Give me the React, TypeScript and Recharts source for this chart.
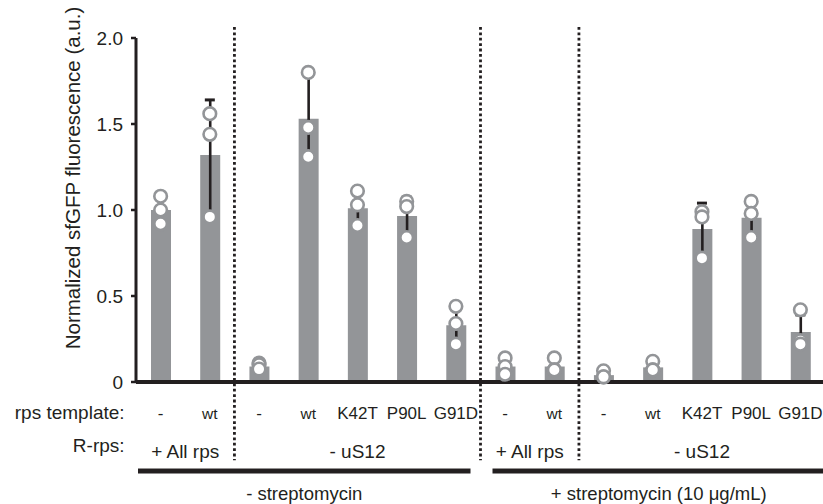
import {
  Bar,
  ComposedChart,
  ErrorBar,
  Label,
  ReferenceArea,
  ReferenceLine,
  Scatter,
  XAxis,
  YAxis,
} from "recharts";

// one id per lane; the printed template names repeat, so they live in their own array
const categories = ["c0", "c1", "c2", "c3", "c4", "c5", "c6", "c7", "c8", "c9", "c10", "c11", "c12", "c13"];
const templateLabels = ["-", "wt", "-", "wt", "K42T", "P90L", "G91D", "-", "wt", "-", "wt", "K42T", "P90L", "G91D"];

const means = [1.0, 1.32, 0.09, 1.53, 1.01, 0.965, 0.33, 0.09, 0.09, 0.04, 0.085, 0.89, 0.955, 0.29];
const sds = [0.08, 0.32, 0.02, 0.25, 0.1, 0.11, 0.11, 0.05, 0.04, 0.02, 0.03, 0.15, 0.11, 0.1];
const rep1 = [1.08, 1.56, 0.11, 1.8, 1.11, 1.05, 0.44, 0.14, 0.14, 0.065, 0.12, 0.99, 1.05, 0.42];
const rep2 = [1.0, 1.44, 0.1, 1.48, 1.03, 1.02, 0.34, 0.09, 0.07, 0.03, 0.07, 0.96, 0.98, 0.24];
const rep3 = [0.92, 0.96, 0.075, 1.31, 0.91, 0.84, 0.22, 0.045, 0.07, 0.03, 0.07, 0.72, 0.84, 0.22];

const yTicks = [0, 0.5, 1, 1.5, 2];

// dotted separators sit at the start of these lanes
const separators = ["c2", "c7", "c9"];

const rRpsGroups = [
  { from: "c0", to: "c1", label: "+ All rps" },
  { from: "c2", to: "c6", label: "- uS12" },
  { from: "c7", to: "c8", label: "+ All rps" },
  { from: "c9", to: "c13", label: "- uS12" },
];

const strepGroups = [
  { from: "c0", to: "c6", label: "- streptomycin", inL: 2, inR: 10 },
  { from: "c7", to: "c13", label: "+ streptomycin (10 \u03bcg/mL)", inL: 12, inR: 0 },
];

const data = categories.map((c, i) => ({
  id: c,
  mean: means[i],
  sd: sds[i],
  cap: means[i] + sds[i], // only the upper whisker gets a cap, as in the figure
  r1: rep1[i],
  r2: rep2[i],
  r3: rep3[i],
}));

const INK = "#231f20";
const BAR = "#939598";
const FONT = "'Liberation Sans', Arial, sans-serif";

function TemplateTick({ x, y, payload }: { x: number; y: number; payload: { value: string } }) {
  const i = categories.indexOf(payload.value);
  const text = templateLabels[i];
  return (
    <g fontFamily={FONT} fill={INK}>
      <text x={x} y={y + 37} textAnchor="middle" fontSize={text === "wt" ? 15.5 : 17} fill={INK}>
        {text}
      </text>
      {i === 0 && (
        <>
          <text x={x - 36} y={y + 37} textAnchor="end" fontSize={19} fill={INK}>
            rps template:
          </text>
          <text x={x - 36} y={y + 70} textAnchor="end" fontSize={19} fill={INK}>
            R-rps:
          </text>
        </>
      )}
    </g>
  );
}

function Dot({ cx, cy }: { cx: number; cy: number }) {
  return <circle cx={cx} cy={cy} r={6.3} fill="#ffffff" stroke={BAR} strokeWidth={2.6} />;
}

function Cap({ cx, cy }: { cx: number; cy: number }) {
  return <line x1={cx - 5} x2={cx + 5} y1={cy} y2={cy} stroke={INK} strokeWidth={3} />;
}

export default function App() {
  return (
    <div style={{ position: "absolute", left: 0, top: 0, width: 823, height: 504, overflow: "hidden", background: "#fff" }}>
      <ComposedChart
        width={825}
        height={504}
        data={data}
        margin={{ top: 38, right: 0, bottom: 0, left: 0 }}
        barCategoryGap={0}
      >
        <XAxis
          dataKey="id"
          type="category"
          height={122}
          tickLine={false}
          tickSize={0}
          tickMargin={0}
          axisLine={{ stroke: INK, strokeWidth: 4 }}
          tick={(p: unknown) => <TemplateTick {...(p as { x: number; y: number; payload: { value: string } })} />}
          interval={0}
        />
        <YAxis
          type="number"
          domain={[0, 2]}
          ticks={yTicks}
          width={136}
          tickSize={5}
          tickMargin={8}
          tickFormatter={(v: number) => (v === 0 ? "0" : v.toFixed(1))}
          tick={{ fill: INK, fontSize: 19, fontFamily: FONT }}
          tickLine={{ stroke: INK, strokeWidth: 2.5 }}
          axisLine={{ stroke: INK, strokeWidth: 3 }}
        >
          <Label
            content={({ viewBox }: { viewBox?: { x: number; y: number; width: number; height: number } }) => {
              if (!viewBox) return null;
              const cx = viewBox.x + 72;
              const cy = viewBox.y + viewBox.height / 2 - 32;
              return (
                <text
                  x={cx}
                  y={cy}
                  transform={`rotate(-90 ${cx} ${cy})`}
                  textAnchor="middle"
                  dominantBaseline="central"
                  fontSize={20.5}
                  fontFamily={FONT}
                  fill={INK}
                >
                  Normalized sfGFP fluorescence (a.u.)
                </text>
              );
            }}
          />
        </YAxis>

        {separators.map((s) => (
          <ReferenceLine
            key={s}
            segment={[
              { x: s, y: 2.064 },
              { x: s, y: -0.455 },
            ]}
            position="start"
            ifOverflow="visible"
            stroke={INK}
            strokeWidth={2.8}
            strokeDasharray="2.8 2.6"
          />
        ))}

        {rRpsGroups.map((g, i) => (
          <ReferenceArea
            key={`r${i}`}
            x1={g.from}
            x2={g.to}
            y1={-0.37}
            y2={-0.43}
            ifOverflow="visible"
            fill="none"
            stroke="none"
            label={{ value: g.label, position: "center", fontSize: 19, fontFamily: FONT, fill: INK }}
          />
        ))}

        {strepGroups.map((g, i) => (
          <ReferenceArea
            key={`s${i}`}
            x1={g.from}
            x2={g.to}
            y1={-0.503}
            y2={-0.532}
            ifOverflow="visible"
            shape={(p: unknown) => {
              const { x, y, width, height } = p as { x: number; y: number; width: number; height: number };
              const left = x + g.inL;
              const w = width - g.inL - g.inR;
              return (
                <g>
                  <rect x={left} y={y} width={w} height={height} fill={INK} />
                  <text
                    x={left + w / 2}
                    y={y + height + 26}
                    textAnchor="middle"
                    fontSize={18.5}
                    fontFamily={FONT}
                    fill={INK}
                  >
                    {g.label}
                  </text>
                </g>
              );
            }}
          />
        ))}

        <Bar dataKey="mean" fill={BAR} barSize={20} isAnimationActive={false}>
          <ErrorBar dataKey="sd" width={0} strokeWidth={2.6} stroke={INK} direction="y" />
        </Bar>
        <Scatter dataKey="cap" isAnimationActive={false} shape={(p: unknown) => <Cap {...(p as { cx: number; cy: number })} />} />
        <Scatter dataKey="r1" isAnimationActive={false} shape={(p: unknown) => <Dot {...(p as { cx: number; cy: number })} />} />
        <Scatter dataKey="r2" isAnimationActive={false} shape={(p: unknown) => <Dot {...(p as { cx: number; cy: number })} />} />
        <Scatter dataKey="r3" isAnimationActive={false} shape={(p: unknown) => <Dot {...(p as { cx: number; cy: number })} />} />
      </ComposedChart>
    </div>
  );
}
